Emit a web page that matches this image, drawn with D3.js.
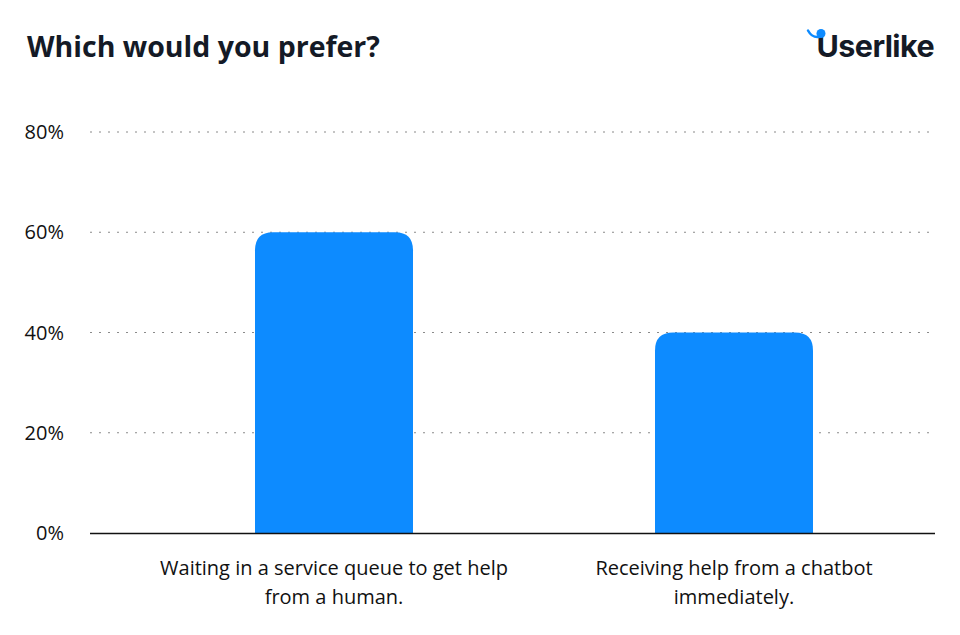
<!DOCTYPE html>
<html><head><meta charset="utf-8">
<script src="https://cdn.jsdelivr.net/npm/d3@7"></script>
<style>body{margin:0;background:#fff}svg{display:block}</style>
</head><body>
<script>
const categories = ["Waiting in a service queue to get help|from a human.", "Receiving help from a chatbot|immediately."];
const values = [60, 40];
const tickValues = [0, 20, 40, 60, 80];
const title = "Which would you prefer?";

const W = 960, H = 635;
const svg = d3.select("body").append("svg").attr("width", W).attr("height", H);
svg.append("rect").attr("width", W).attr("height", H).attr("fill", "#fff");

const y = d3.scaleLinear().domain([0, 80]).range([533, 132]);
const x = d3.scaleBand().domain(categories).range([134, 934]).paddingInner(0.605).paddingOuter(0.3025);

// grid
svg.append("g").selectAll("line").data(tickValues.filter(d => d > 0)).join("line")
  .attr("x1", 90).attr("x2", 935)
  .attr("y1", d => y(d)).attr("y2", d => y(d))
  .attr("stroke", "#8a8a8a").attr("stroke-width", 1.2).attr("stroke-dasharray", "2,7");

// y tick labels
svg.append("g").selectAll("text").data(tickValues).join("text")
  .attr("x", 64).attr("y", d => y(d) + 7)
  .attr("text-anchor", "end")
  .attr("font-family", "Open Sans").attr("font-size", 20).attr("fill", "#111")
  .text(d => d + "%");

// bars with rounded top
const r = 18;
svg.append("g").selectAll("path").data(values).join("path")
  .attr("fill", "#0d8bff")
  .attr("d", (d, i) => {
    const x0 = x(categories[i]), w = x.bandwidth(), y0 = y(d), yb = y(0);
    return `M${x0},${yb}V${y0 + r}Q${x0},${y0} ${x0 + r},${y0}H${x0 + w - r}Q${x0 + w},${y0} ${x0 + w},${y0 + r}V${yb}Z`;
  });

// baseline
svg.append("line").attr("x1", 90).attr("x2", 935).attr("y1", y(0) + 0.5).attr("y2", y(0) + 0.5)
  .attr("stroke", "#111").attr("stroke-width", 1.5);

// category labels
const cl = svg.append("g").selectAll("text").data(categories).join("text")
  .attr("text-anchor", "middle")
  .attr("font-family", "Open Sans").attr("font-size", 20).attr("fill", "#111");
cl.each(function(d) {
  const lines = d.split("|");
  const t = d3.select(this);
  lines.forEach((ln, k) => {
    t.append("tspan").attr("x", x(d) + x.bandwidth() / 2).attr("y", 575 + k * 29).text(ln);
  });
});

// title
svg.append("text").attr("x", 27).attr("y", 57)
  .attr("font-family", "Open Sans").attr("font-weight", 700).attr("font-size", 28.5)
  .attr("fill", "#141a26").text(title);

// logo
const logo = svg.append("g");
logo.append("text").attr("x", 934).attr("y", 57).attr("text-anchor", "end")
  .attr("font-family", "Inter").attr("font-weight", 700).attr("font-size", 30.5)
  .attr("letter-spacing", -0.6)
  .attr("fill", "#141a26").text("Userlike");
logo.append("path").attr("d", "M808,30.5 Q812,38 819,37").attr("stroke", "#0d8bff").attr("stroke-width", 2.5).attr("fill", "none").attr("stroke-linecap", "round");
logo.append("circle").attr("cx", 821).attr("cy", 33.5).attr("r", 4.5).attr("fill", "#0d8bff");
</script>
</body></html>
